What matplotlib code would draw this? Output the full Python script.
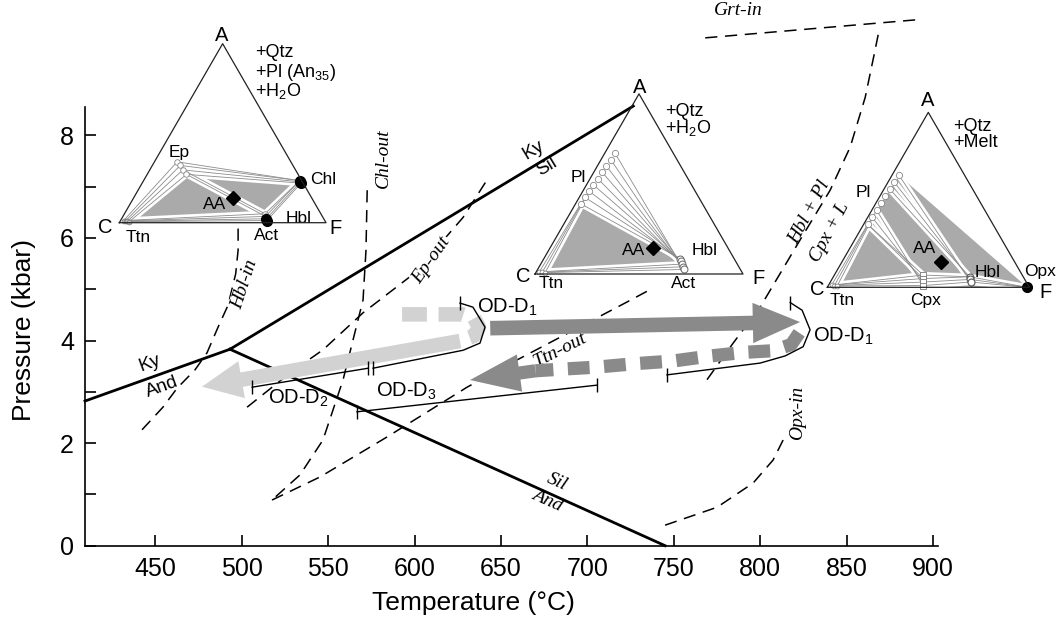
import numpy as np
import matplotlib
matplotlib.use("Agg")
import matplotlib.pyplot as plt
from matplotlib.ticker import MultipleLocator

W_PX, H_PX = 1063, 619
S3 = np.sqrt(3) / 2

plt.rcParams['font.family'] = ['Liberation Sans', 'DejaVu Sans']
plt.rcParams['mathtext.fontset'] = 'custom'
plt.rcParams['mathtext.rm'] = 'Liberation Sans'
plt.rcParams['mathtext.it'] = 'Liberation Sans:italic'
plt.rcParams['mathtext.default'] = 'regular'

LIGHT = '#d2d2d2'
DARK = '#8a8a8a'
FILL = '#aaaaaa'
TIE = '#8c8c8c'
SERIF = dict(family='Liberation Serif', style='italic')

# --- Al2SiO5 reactions (T in degC, P in kbar) ---
KY_AND_T = [409.3, 493.2]
KY_AND_P = [2.82, 3.83]
KY_SIL_T = [493.2, 726.6]
KY_SIL_P = [3.83, 8.57]
SIL_AND_T = [493.2, 745.0]
SIL_AND_P = [3.83, 0.0]

# --- dashed reaction curves ---
HBL_IN_T = [442.3, 454.4, 462.6, 473.0, 479.9, 486.3, 492.1, 496.5, 497.9, 497.9]
HBL_IN_P = [2.26, 2.70, 3.07, 3.43, 3.76, 4.26, 4.69, 5.30, 5.76, 6.25]
CHL_OUT_T = [572.6, 571.9, 570.2, 564.4, 558.6, 547.0, 533.7, 517.5]
CHL_OUT_P = [6.93, 5.76, 4.79, 4.01, 3.23, 2.06, 1.38, 0.89]
EP_OUT_T = [503.1, 528.0, 547.1, 570.2, 600.3, 628.1, 642.5]
EP_OUT_P = [2.70, 3.37, 3.82, 4.54, 5.32, 6.40, 7.16]
TTN_OUT_T = [517.5, 545.3, 584.1, 630.4, 657.0, 721.8, 735.1]
TTN_OUT_P = [0.89, 1.34, 2.12, 3.09, 3.58, 4.73, 4.97]
HBLPL_T = [868.3, 866.5, 860.8, 852.1, 840.5, 823.1, 800.0, 784.4, 767.0]
HBLPL_P = [9.96, 9.66, 8.74, 7.77, 6.93, 5.96, 4.65, 3.95, 3.13]
GRT_IN_T = [768.2, 889.7]
GRT_IN_P = [9.90, 10.25]
OPX_IN_T = [745.0, 775.1, 795.9, 807.5, 813.3]
OPX_IN_P = [0.40, 0.75, 1.22, 1.67, 2.06]

# --- P-T path arrows ---
LIGHT_DASH_T = [592.8, 628.1, 634.4, 637.3, 634.4, 626.3]
LIGHT_DASH_P = [4.51, 4.51, 4.44, 4.26, 4.09, 3.99]
LIGHT_HEAD_T = [626.3, 477.0]
LIGHT_HEAD_P = [3.99, 3.10]
DARK_T = [643.8, 823.1]
DARK_P = [4.24, 4.36]
DARK_DASH_T = [822.6, 818.0, 807.0, 791.0, 771.5, 749.6, 728.2, 705.0, 684.2, 670.0]
DARK_DASH_P = [4.15, 3.92, 3.80, 3.77, 3.70, 3.60, 3.55, 3.48, 3.44, 3.41]
DARK_HEAD_T = [670.0, 632.1]
DARK_HEAD_P = [3.41, 3.23]

# --- OD segments ---
OD1A_T = [626.3, 633.8, 640.8, 637.9, 628.1, 576.0]
OD1A_P = [4.73, 4.65, 4.26, 3.95, 3.81, 3.46]
OD2_T = [573.2, 506.0]
OD2_P = [3.46, 3.09]
OD3_T = [566.7, 705.6]
OD3_P = [2.61, 3.13]
OD1B_T = [817.4, 824.3, 828.9, 824.9, 814.5, 800.0, 746.1]
OD1B_P = [4.74, 4.59, 4.21, 3.88, 3.70, 3.56, 3.33]

# --- ACF compositions (A, F); C = 1 - A - F ---
EP1 = [(0.34, 0.11), (0.32, 0.135), (0.295, 0.16), (0.27, 0.19)]
TTN1 = [(0.012, 0.015), (0.010, 0.025), (0.008, 0.035), (0.006, 0.045)]
CHL1 = [(0.235, 0.755), (0.228, 0.762), (0.221, 0.769)]
ACT1 = [(0.05, 0.68), (0.035, 0.69), (0.022, 0.70), (0.012, 0.708)]
AA1 = [(0.136, 0.484)]

PL2 = [(0.39, 0.025), (0.425, 0.028), (0.46, 0.03), (0.495, 0.033), (0.53, 0.036),
       (0.565, 0.04), (0.60, 0.043), (0.635, 0.047), (0.67, 0.05)]
HBL2 = [(0.085, 0.655), (0.07, 0.668), (0.055, 0.68), (0.04, 0.692), (0.025, 0.703)]
TTN2 = [(0.012, 0.015), (0.010, 0.03), (0.008, 0.045)]
AA2 = [(0.143, 0.497)]

PL3 = [(0.36, 0.02), (0.40, 0.022), (0.44, 0.024), (0.48, 0.026), (0.52, 0.028),
       (0.56, 0.03), (0.60, 0.032), (0.64, 0.035)]
CPX3 = [(0.07, 0.44), (0.05, 0.45), (0.03, 0.46), (0.01, 0.47)]
HBL3 = [(0.06, 0.675), (0.045, 0.685), (0.03, 0.695)]
OPX3 = [(0.0, 0.99)]
TTN3 = [(0.012, 0.015), (0.010, 0.03), (0.008, 0.045)]
AA3 = [(0.147, 0.488)]


def tern(pts):
    pts = np.atleast_2d(np.asarray(pts, dtype=float))
    a, f = pts[:, 0], pts[:, 1]
    return f + a / 2, a * S3


def tri_axes(fig, cx, cy, w):
    tax = fig.add_axes([cx / W_PX, 1 - cy / H_PX, w / W_PX, w * S3 / H_PX])
    tax.set_xlim(0, 1)
    tax.set_ylim(0, S3)
    tax.axis('off')
    tax.plot([0, 1, 0.5, 0], [0, 0, S3, 0], color='#222222', lw=0.9,
             clip_on=False, zorder=6)
    return tax


def fill(tax, pts):
    u, v = tern(pts)
    tax.fill(u, v, color=FILL, lw=0, zorder=1)


def bundles(tax, pairs):
    segs = []
    for p1, p2 in pairs:
        u1, v1 = tern(p1)
        u2, v2 = tern(p2)
        n = max(len(u1), len(u2))
        for i in range(n):
            j1 = i * len(u1) // n
            j2 = i * len(u2) // n
            segs.append(([u1[j1], u2[j2]], [v1[j1], v2[j2]]))
    for x, y in segs:
        tax.plot(x, y, color='white', lw=4.5, solid_capstyle='round', clip_on=False, zorder=2)
    for x, y in segs:
        tax.plot(x, y, color=TIE, lw=0.6, clip_on=False, zorder=3)


def mark(tax, pts, **kw):
    u, v = tern(pts)
    tax.plot(u, v, ls='none', clip_on=False, zorder=5, **kw)


def tlabel(tax, u, v, s, size=12.5, ha='center', va='center'):
    tax.text(u, v, s, fontsize=size, ha=ha, va=va, clip_on=False)


fig = plt.figure(figsize=(W_PX / 100, H_PX / 100), dpi=100)
ax = fig.add_axes([85 / W_PX, 1 - 545.7 / H_PX, 853.3 / W_PX, 438.9 / H_PX])
ax.set_xlim(409.3, 903.1)
ax.set_ylim(0, 8.556)
for s in ['top', 'right']:
    ax.spines[s].set_visible(False)
for s in ['left', 'bottom']:
    ax.spines[s].set_linewidth(1.2)
ax.set_xticks(np.arange(450, 901, 50))
ax.set_yticks(np.arange(0, 9, 2))
ax.yaxis.set_minor_locator(MultipleLocator(1))
ax.tick_params(which='both', direction='in', length=8, width=1.2, labelsize=18, pad=8)
fig.text(473 / W_PX, 1 - 603 / H_PX, 'Temperature (°C)', fontsize=19, ha='center', va='center')
fig.text(24 / W_PX, 1 - 330 / H_PX, 'Pressure (kbar)', fontsize=19, ha='center', va='center',
         rotation=90)

# reaction curves
for t, p in [(KY_AND_T, KY_AND_P), (KY_SIL_T, KY_SIL_P), (SIL_AND_T, SIL_AND_P)]:
    ax.plot(t, p, color='black', lw=2.0, clip_on=False, zorder=3.5)

for t, p in [(HBL_IN_T, HBL_IN_P), (CHL_OUT_T, CHL_OUT_P), (EP_OUT_T, EP_OUT_P),
             (TTN_OUT_T, TTN_OUT_P), (HBLPL_T, HBLPL_P), (GRT_IN_T, GRT_IN_P),
             (OPX_IN_T, OPX_IN_P)]:
    ax.plot(t, p, color='black', lw=1.1, dashes=(8, 5), clip_on=False, zorder=2)

box = dict(facecolor='white', edgecolor='none', pad=0.5)
ax.text(447.0, 3.56, 'Ky', fontsize=13.5, rotation=20, ha='center', va='center', zorder=3.6)
ax.text(453.9, 3.09, 'And', fontsize=13.5, rotation=20, ha='center', va='center', zorder=3.6)
ax.text(668.6, 7.71, 'Ky', fontsize=13.5, rotation=31, ha='center', va='center', zorder=3.6)
ax.text(676.5, 7.38, 'Sil', fontsize=13.5, rotation=31, ha='center', va='center', zorder=3.6)
ax.text(682.5, 1.25, 'Sil', fontsize=14, rotation=-24, ha='center', va='center', **SERIF)
ax.text(676.7, 0.89, 'And', fontsize=14, rotation=-24, ha='center', va='center', **SERIF)

ax.text(501.5, 5.10, 'Hbl-in', fontsize=14, rotation=72, ha='center', va='center',
        bbox=box, zorder=3, **SERIF)
ax.text(581.9, 7.56, 'Chl-out', fontsize=14, rotation=90, ha='center', va='center', **SERIF)
ax.text(609.9, 5.57, 'Ep-out', fontsize=14, rotation=55, ha='center', va='center',
        bbox=box, zorder=3, **SERIF)
ax.text(684.2, 3.82, 'Ttn-out', fontsize=14, rotation=27, ha='center', va='center',
        bbox=box, zorder=3, **SERIF)
ax.text(787.5, 10.44, 'Grt-in', fontsize=14, ha='center', va='center', clip_on=False, **SERIF)
ax.text(828.8, 6.50, 'Hbl + Pl', fontsize=14, rotation=62, ha='center', va='center', **SERIF)
ax.text(840.4, 6.11, 'Cpx + L', fontsize=14, rotation=62, ha='center', va='center', **SERIF)
ax.text(821.4, 2.59, 'Opx-in', fontsize=14, rotation=90, ha='center', va='center', **SERIF)

# P-T path arrows
ax.plot(LIGHT_DASH_T, LIGHT_DASH_P, color=LIGHT, lw=10.5, dashes=(1.7, 0.8),
        dash_capstyle='butt', zorder=4)
ax.annotate('', xy=(LIGHT_HEAD_T[1], LIGHT_HEAD_P[1]), xytext=(LIGHT_HEAD_T[0], LIGHT_HEAD_P[0]),
            arrowprops=dict(arrowstyle='simple,head_length=2.9,head_width=2.7,tail_width=1.05',
                            color=LIGHT, mutation_scale=10, shrinkA=0, shrinkB=0, lw=0),
            zorder=4)
ax.annotate('', xy=(DARK_T[1], DARK_P[1]), xytext=(DARK_T[0], DARK_P[0]),
            arrowprops=dict(arrowstyle='simple,head_length=3.4,head_width=2.9,tail_width=1.05',
                            color=DARK, mutation_scale=10, shrinkA=0, shrinkB=0, lw=0),
            zorder=4)
ax.plot(DARK_DASH_T, DARK_DASH_P, color=DARK, lw=9.5, dashes=(1.65, 1.1),
        dash_capstyle='butt', zorder=4)
ax.annotate('', xy=(DARK_HEAD_T[1], DARK_HEAD_P[1]), xytext=(DARK_HEAD_T[0], DARK_HEAD_P[0]),
            arrowprops=dict(arrowstyle='simple,head_length=3.6,head_width=2.7,tail_width=0.95',
                            color=DARK, mutation_scale=10, shrinkA=0, shrinkB=0, lw=0),
            zorder=4)

# OD segments
for t, p in [(OD1A_T, OD1A_P), (OD2_T, OD2_P), (OD3_T, OD3_P), (OD1B_T, OD1B_P)]:
    ax.plot(t, p, color='black', lw=1.0, zorder=5)
    ax.plot([t[0], t[-1]], [p[0], p[-1]], ls='none', marker='|', ms=10, mew=1.0,
            color='black', zorder=5)
ax.text(653.6, 4.65, 'OD-D$_1$', fontsize=14.5, ha='center', va='center', zorder=6)
ax.text(532.5, 2.88, 'OD-D$_2$', fontsize=14.5, ha='center', va='center', zorder=6)
ax.text(595.5, 3.00, 'OD-D$_3$', fontsize=14.5, ha='center', va='center', zorder=6)
ax.text(848.0, 4.08, 'OD-D$_1$', fontsize=14.5, ha='center', va='center', zorder=6)

# --- ACF triangle 1 (greenschist / amphibolite) ---
t1 = tri_axes(fig, 119.3, 222.7, 206.7)
fill(t1, [TTN1[-1], EP1[-1], ACT1[-1]])
fill(t1, [EP1[-1], CHL1[-1], ACT1[0]])
bundles(t1, [(EP1, TTN1), (EP1, CHL1), (EP1[-2:], ACT1[:2]), (CHL1, ACT1), (TTN1, ACT1)])
mark(t1, EP1, marker='o', ms=4, mfc='white', mec='#888888', mew=0.6)
mark(t1, TTN1, marker='o', ms=3.5, mfc='#bbbbbb', mec='#777777', mew=0.5)
mark(t1, ACT1[:2], marker='o', ms=4, mfc='white', mec='#888888', mew=0.6)
mark(t1, ACT1[2:], marker='o', ms=7, color='black')
mark(t1, CHL1, marker='o', ms=7, color='black')
mark(t1, AA1, marker='D', ms=7, color='black')
tlabel(t1, 0.495, 0.907, 'A', 14.5)
tlabel(t1, -0.069, -0.021, 'C', 14.5)
tlabel(t1, 1.048, -0.026, 'F', 14.5)
tlabel(t1, 0.289, 0.342, 'Ep')
tlabel(t1, 0.987, 0.207, 'Chl')
tlabel(t1, 0.463, 0.086, 'AA')
tlabel(t1, 0.869, 0.021, 'Hbl')
tlabel(t1, 0.713, -0.060, 'Act')
tlabel(t1, 0.092, -0.071, 'Ttn')
tlabel(t1, 0.656, 0.802, '+Qtz', 13, ha='left', va='baseline')
tlabel(t1, 0.656, 0.705, '+Pl (An$_{35}$)', 13, ha='left', va='baseline')
tlabel(t1, 0.656, 0.613, '+H$_2$O', 13, ha='left', va='baseline')

# --- ACF triangle 2 ---
t2 = tri_axes(fig, 535, 274, 208)
fill(t2, [TTN2[-1], PL2[0], HBL2[1]])
bundles(t2, [(TTN2, PL2[:3]), (PL2, HBL2), (TTN2, HBL2[-3:])])
mark(t2, PL2, marker='o', ms=4.5, mfc='white', mec='#888888', mew=0.6)
mark(t2, HBL2, marker='o', ms=5, mfc='white', mec='#666666', mew=0.7)
mark(t2, TTN2, marker='o', ms=3.5, mfc='white', mec='#777777', mew=0.5)
mark(t2, AA2, marker='D', ms=7, color='black')
tlabel(t2, 0.505, 0.899, 'A', 14.5)
tlabel(t2, -0.056, -0.010, 'C', 14.5)
tlabel(t2, 1.074, -0.021, 'F', 14.5)
tlabel(t2, 0.207, 0.466, 'Pl')
tlabel(t2, 0.473, 0.115, 'AA')
tlabel(t2, 0.817, 0.112, 'Hbl')
tlabel(t2, 0.080, -0.045, 'Ttn')
tlabel(t2, 0.713, -0.045, 'Act')
tlabel(t2, 0.625, 0.760, '+Qtz', 13, ha='left', va='baseline')
tlabel(t2, 0.625, 0.676, '+H$_2$O', 13, ha='left', va='baseline')

# --- ACF triangle 3 (melt-bearing) ---
t3 = tri_axes(fig, 827.3, 287.3, 202)
fill(t3, [TTN3[-1], PL3[0], PL3[-1], OPX3[0]])
bundles(t3, [(TTN3, PL3[:3]), (PL3[:3], CPX3), (PL3[-3:], HBL3), (TTN3, CPX3),
             (CPX3, HBL3), (HBL3, OPX3)])
mark(t3, PL3, marker='o', ms=4.5, mfc='white', mec='#888888', mew=0.6)
mark(t3, CPX3, marker='s', ms=4.5, mfc='white', mec='#777777', mew=0.6)
mark(t3, HBL3, marker='o', ms=5, mfc='white', mec='#555555', mew=0.8)
mark(t3, TTN3, marker='o', ms=3.5, mfc='white', mec='#777777', mew=0.5)
mark(t3, OPX3, marker='o', ms=7, color='black')
mark(t3, AA3, marker='D', ms=7, color='black')
tlabel(t3, 0.499, 0.927, 'A', 14.5)
tlabel(t3, -0.051, -0.013, 'C', 14.5)
tlabel(t3, 1.078, -0.028, 'F', 14.5)
tlabel(t3, 0.177, 0.467, 'Pl')
tlabel(t3, 0.483, 0.193, 'AA')
tlabel(t3, 0.795, 0.071, 'Hbl')
tlabel(t3, 1.053, 0.076, 'Opx')
tlabel(t3, 0.073, -0.063, 'Ttn')
tlabel(t3, 0.484, -0.063, 'Cpx')
tlabel(t3, 0.622, 0.774, '+Qtz', 13, ha='left', va='baseline')
tlabel(t3, 0.622, 0.696, '+Melt', 13, ha='left', va='baseline')

fig.savefig('out.png', dpi=100)
